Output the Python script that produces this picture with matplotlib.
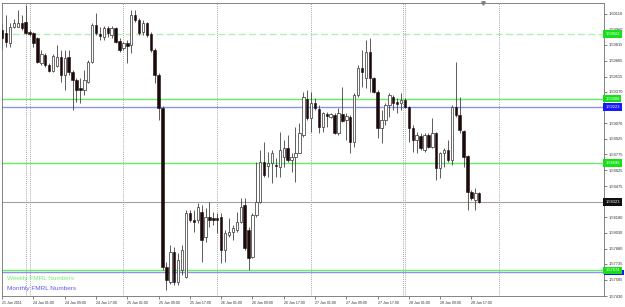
import numpy as np
import matplotlib as mpl
mpl.use('Agg')
import matplotlib.pyplot as plt
import matplotlib.transforms as mtransforms
from matplotlib.patches import Rectangle

# hourly bars, first bar = 21 Jan 2011 17:00 (index -7), 24 Jan 00:00 = index 0
first_bar = -7

opens = [1.59957, 1.59929, 1.59834, 1.59986, 1.59986, 1.60024, 1.60033,
         1.59938, 1.59929, 1.59881, 1.59644, 1.59720, 1.59625, 1.59568, 1.59615, 1.59701, 1.59530,
         1.59701, 1.59558, 1.59482, 1.59406, 1.59387, 1.59463, 1.59653, 1.60005, 1.59919, 1.59891,
         1.59976, 1.59910, 1.59976, 1.59853, 1.59786, 1.59834, 1.59815, 1.60100, 1.60052, 1.59938,
         1.60024, 1.59919, 1.59767, 1.59530, 1.59216, 1.57706, 1.57563, 1.57848, 1.57563, 1.57677,
         1.57611, 1.58219, 1.58152, 1.58152, 1.58228, 1.57991, 1.58181, 1.58171, 1.58171, 1.58181,
         1.57867, 1.58010, 1.58038, 1.58057, 1.58133, 1.58295, 1.58057, 1.57801, 1.58200, 1.58323,
         1.58703, 1.58665, 1.58694, 1.58675, 1.58656, 1.58751, 1.58836, 1.58722, 1.58751, 1.58789,
         1.58960, 1.59302, 1.59121, 1.59264, 1.59207, 1.59036, 1.59159, 1.59131, 1.59150, 1.58979,
         1.59159, 1.59102, 1.59131, 1.58893, 1.59340, 1.59596, 1.59501, 1.59748, 1.59501, 1.59368,
         1.59026, 1.59102, 1.59245, 1.59321, 1.59273, 1.59264, 1.59292, 1.59226, 1.59026, 1.58912,
         1.58950, 1.58817, 1.58960, 1.58846, 1.58979, 1.58646, 1.58789, 1.58817, 1.58722, 1.59226,
         1.59150, 1.58998, 1.58760, 1.58418, 1.58342, 1.58409]

highs = [1.60024, 1.60100, 1.60024, 1.60062, 1.60147, 1.60100, 1.60195,
         1.59957, 1.59938, 1.59891, 1.59767, 1.59739, 1.59644, 1.59729, 1.59815, 1.59767, 1.59767,
         1.59767, 1.59577, 1.59501, 1.59501, 1.59577, 1.59672, 1.60024, 1.60119, 1.59986, 1.59995,
         1.59995, 1.59995, 1.59986, 1.59881, 1.59843, 1.59862, 1.60147, 1.60147, 1.60071, 1.60052,
         1.60033, 1.59938, 1.59786, 1.59549, 1.59235, 1.57753, 1.57915, 1.57896, 1.57839, 1.57915,
         1.58247, 1.58247, 1.58247, 1.58314, 1.58295, 1.58266, 1.58323, 1.58228, 1.58219, 1.58219,
         1.58057, 1.58171, 1.58105, 1.58228, 1.58361, 1.58361, 1.58086, 1.58219, 1.58703, 1.58817,
         1.58893, 1.58798, 1.58817, 1.58741, 1.58988, 1.58912, 1.58960, 1.58789, 1.59036, 1.59074,
         1.59368, 1.59387, 1.59368, 1.59311, 1.59245, 1.59178, 1.59178, 1.59169, 1.59169, 1.59216,
         1.59416, 1.59169, 1.59150, 1.59359, 1.59625, 1.59767, 1.59862, 1.59881, 1.59511, 1.59387,
         1.59197, 1.59264, 1.59359, 1.59340, 1.59311, 1.59359, 1.59311, 1.59235, 1.59055, 1.58988,
         1.58979, 1.58979, 1.58979, 1.59121, 1.58988, 1.58798, 1.58836, 1.58912, 1.59245, 1.59653,
         1.59321, 1.59007, 1.58770, 1.58437, 1.58456, 1.58418]

lows = [1.59767, 1.59796, 1.59796, 1.59976, 1.59986, 1.59957, 1.59919,
        1.59900, 1.59796, 1.59644, 1.59625, 1.59606, 1.59558, 1.59558, 1.59606, 1.59463, 1.59387,
        1.59530, 1.59197, 1.59273, 1.59264, 1.59340, 1.59454, 1.59644, 1.59910, 1.59862, 1.59862,
        1.59891, 1.59881, 1.59834, 1.59748, 1.59767, 1.59644, 1.59739, 1.60033, 1.59910, 1.59910,
        1.59891, 1.59748, 1.59454, 1.59102, 1.57677, 1.57487, 1.57544, 1.57535, 1.57535, 1.57630,
        1.57601, 1.58133, 1.58038, 1.58124, 1.57753, 1.57943, 1.58086, 1.58105, 1.58029, 1.57744,
        1.57753, 1.57991, 1.57962, 1.58038, 1.58124, 1.57867, 1.57677, 1.57791, 1.58181, 1.58314,
        1.58561, 1.58561, 1.58504, 1.58561, 1.58561, 1.58656, 1.58703, 1.58608, 1.58513, 1.58789,
        1.58941, 1.59102, 1.58988, 1.59197, 1.58979, 1.58988, 1.59036, 1.59121, 1.58969, 1.58960,
        1.59083, 1.58912, 1.58789, 1.58846, 1.59321, 1.59416, 1.59406, 1.59368, 1.59359, 1.58931,
        1.58884, 1.59055, 1.59131, 1.59197, 1.59169, 1.59197, 1.59216, 1.58893, 1.58798, 1.58789,
        1.58817, 1.58798, 1.58836, 1.58836, 1.58532, 1.58551, 1.58656, 1.58703, 1.58675, 1.59131,
        1.58979, 1.58656, 1.58247, 1.58342, 1.58247, 1.58314]

closes = [1.59881, 1.59843, 1.59986, 1.60024, 1.60024, 1.59976, 1.59929,
          1.59919, 1.59834, 1.59653, 1.59729, 1.59625, 1.59568, 1.59710, 1.59701, 1.59530, 1.59691,
          1.59558, 1.59482, 1.59387, 1.59387, 1.59482, 1.59653, 1.60005, 1.59929, 1.59900, 1.59976,
          1.59929, 1.59976, 1.59843, 1.59767, 1.59834, 1.59805, 1.60100, 1.60052, 1.59929, 1.60024,
          1.59910, 1.59767, 1.59530, 1.59216, 1.57706, 1.57582, 1.57848, 1.57563, 1.57772, 1.57867,
          1.58219, 1.58152, 1.58133, 1.58276, 1.57962, 1.58181, 1.58152, 1.58152, 1.58152, 1.57867,
          1.58029, 1.58038, 1.58076, 1.58133, 1.58276, 1.57886, 1.57791, 1.58200, 1.58323, 1.58703,
          1.58580, 1.58694, 1.58789, 1.58665, 1.58817, 1.58836, 1.58722, 1.58751, 1.58789, 1.58979,
          1.59321, 1.59121, 1.59264, 1.59216, 1.59036, 1.59169, 1.59140, 1.59159, 1.58979, 1.59169,
          1.59093, 1.59140, 1.58893, 1.59340, 1.59596, 1.59558, 1.59748, 1.59501, 1.59368, 1.59026,
          1.59102, 1.59245, 1.59340, 1.59264, 1.59254, 1.59292, 1.59226, 1.59026, 1.58912, 1.58960,
          1.58836, 1.58960, 1.58846, 1.58979, 1.58646, 1.58789, 1.58817, 1.58722, 1.59226, 1.59150,
          1.59007, 1.58751, 1.58418, 1.58361, 1.58409, 1.58323]

# time axis labels (bar index, text)
xlabel_bars = [-7, 1, 9, 17, 25, 33, 41, 49, 57, 65, 73, 81, 89, 97, 105, 113]
xlabel_text = ['21 Jan 2011', '24 Jan 01:00', '24 Jan 09:00', '24 Jan 17:00',
               '25 Jan 01:00', '25 Jan 09:00', '25 Jan 17:00', '26 Jan 01:00',
               '26 Jan 09:00', '26 Jan 17:00', '27 Jan 01:00', '27 Jan 09:00',
               '27 Jan 17:00', '28 Jan 01:00', '28 Jan 09:00', '28 Jan 17:00']
day_starts = [-0.85, 0, 24, 48, 72, 95.6, 96, 120]

# visible scale labels (the ones under the level boxes are hidden in the original)
price_ticks = [1.60110, 1.59960, 1.59815, 1.59665, 1.59515, 1.59370,
               1.59070, 1.58925, 1.58775, 1.58625, 1.58475, 1.58180,
               1.58030, 1.57880, 1.57735, 1.57585, 1.57430]

# FMRL levels
weekly_levels = [1.59306, 1.58696, 1.57674]
weekly_dashed = 1.59922
monthly_levels = [1.59223, 1.57658]
last_price = 1.58323


def main():
    o = np.array(opens); h = np.array(highs); l = np.array(lows); c = np.array(closes)
    x = np.arange(first_bar, first_bar + len(o))

    plt.rc('font', family=['Liberation Sans', 'DejaVu Sans'])
    fig = plt.figure(figsize=(6.25, 3.07), dpi=100)
    ax = fig.add_axes([2/625, 11/307, 602/625, 293/307])
    ax.set_xlim(-7.05, 146.9)
    ax.set_ylim(1.57430, 1.60214)

    for d in day_starts:
        ax.axvline(d, color='#8a8a8a', lw=0.6, ls=(0, (1, 1.5)), zorder=1)

    # levels
    ax.axhline(weekly_dashed, color='#b0f0b0', lw=1.0, ls=(0, (5, 2.4)), zorder=1.5)
    for lv in monthly_levels:
        ax.axhline(lv, color='#9090f0', lw=1.0, zorder=1.5)
    for lv in weekly_levels:
        ax.axhline(lv, color='#66ee66', lw=1.0, zorder=1.6)
    ax.axhline(last_price, color='#a89e9e', lw=0.8, zorder=1.5)

    # candles
    bull = c >= o
    ax.vlines(x, l, h, color='#303030', lw=0.55, zorder=2)
    body = np.maximum(np.abs(c - o), 0.00003)
    ax.bar(x[bull], body[bull], bottom=np.minimum(o, c)[bull], width=0.62,
           color='white', edgecolor='#303030', linewidth=0.5, zorder=3)
    ax.bar(x[~bull], body[~bull], bottom=np.minimum(o, c)[~bull], width=0.62,
           color='#1c0a0a', edgecolor='#1c0a0a', linewidth=0.4, zorder=3)

    # right price scale
    ax.yaxis.tick_right()
    ax.set_yticks(price_ticks)
    ax.set_yticklabels(['%.5f' % p for p in price_ticks])
    ax.tick_params(axis='y', labelsize=2.9, length=2, pad=1.2, width=0.5,
                   colors='#505050', labelcolor='#303030')
    ax.set_xticks(xlabel_bars)
    ax.set_xticklabels(xlabel_text)
    for t in ax.get_xticklabels():
        t.set_ha('left')
    ax.tick_params(axis='x', labelsize=2.6, length=2.5, pad=0.8, width=0.5,
                   colors='#505050', labelcolor='#303030')
    for s in ax.spines.values():
        s.set_color('#707070')
        s.set_linewidth(0.6)

    # price boxes on the scale
    tr = mtransforms.blended_transform_factory(ax.transAxes, ax.transData)
    # monthly low box sits under the weekly one, only a sliver shows
    ax.add_patch(Rectangle((1.0, monthly_levels[1] - 0.00030), 0.033, 0.00050,
                           transform=tr, fc='#1818ff', ec='none',
                           clip_on=False, zorder=9))
    boxes = [(weekly_levels[2], '#18e018'), (weekly_dashed, '#18e018'),
             (weekly_levels[0], '#18e018'), (monthly_levels[0], '#1818ff'),
             (weekly_levels[1], '#18e018'), (last_price, '#101010')]
    for i, (p, col) in enumerate(boxes):
        ax.text(1.002, p, '%.5f' % p, transform=tr, fontsize=2.9, color='white',
                ha='left', va='center', clip_on=False, zorder=10 + i,
                bbox=dict(boxstyle='square,pad=0.45', fc=col, ec='none'))

    # chart shift marker
    ax.plot([116], [1.60214], marker='v', ms=2.5, color='#808080',
            clip_on=False, zorder=10)

    ax.text(0.0083, 0.061, 'Weekly FMRL Numbers', transform=ax.transAxes,
            fontsize=4.6, color='#70f070', va='center', zorder=10)
    ax.text(0.0083, 0.027, 'Monthly FMRL Numbers', transform=ax.transAxes,
            fontsize=4.6, color='#5c5cf0', va='center', zorder=10)

    fig.savefig('out.png', dpi=100)
    plt.close()


if __name__ == "__main__":
    main()
